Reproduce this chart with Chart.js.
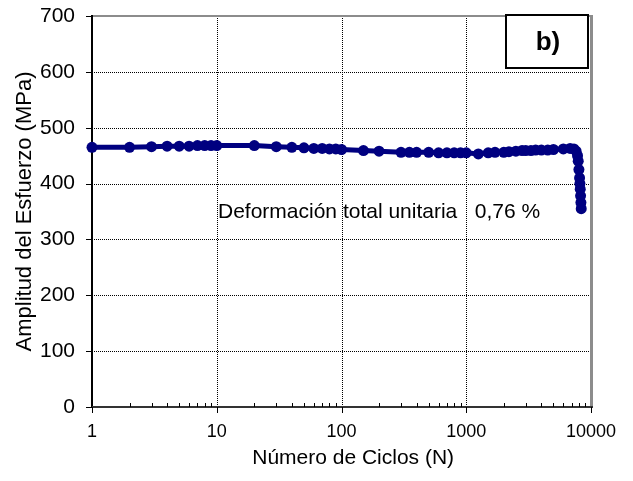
<!DOCTYPE html>
<html>
<head>
<meta charset="utf-8">
<script src="https://cdn.jsdelivr.net/npm/chart.js@4.4.0/dist/chart.umd.min.js"></script>
<style>
  html, body { margin: 0; padding: 0; background: #fff; }
  #wrap { width: 633px; height: 481px; }
</style>
</head>
<body>
<div id="wrap"><canvas id="chart" width="633" height="481"></canvas></div>
<script>
// Stress amplitude vs number of cycles
const ciclos = [1, 2, 3, 4, 5, 6, 7, 8, 9, 10,
    20, 30, 40, 50, 60, 70, 80, 90, 100,
    150, 200, 300, 350, 400, 500, 600, 700, 800, 900, 1000,
    1250, 1500, 1700, 2000, 2200, 2500, 2800, 3000, 3300, 3600, 4000, 4500, 5000,
    6000, 6800, 7300, 7600, 7800, 7900, 8000, 8100, 8150, 8200, 8250, 8300, 8350];
const esfuerzo = [465, 465, 466, 467, 467, 467, 468, 468, 468, 468,
    468, 466, 465, 464, 463, 463, 462, 462, 461,
    459, 458, 456, 456, 456, 456, 455, 455, 455, 455, 455,
    453, 455, 456, 456, 457, 458, 459, 459, 459, 460, 460, 460, 461,
    462, 463, 462, 458, 450, 440, 425, 410, 400, 390, 378, 366, 355];

const xTickValues = [1, 10, 100, 1000, 10000];
const xMinorValues = [2, 3, 4, 5, 6, 7, 8, 9, 20, 30, 40, 50, 60, 70, 80, 90,
    200, 300, 400, 500, 600, 700, 800, 900, 2000, 3000, 4000, 5000, 6000, 7000, 8000, 9000];
const yTickValues = [0, 100, 200, 300, 400, 500, 600, 700];

const etiquetaEnsayo = 'Deformación total unitaria   0,76 %';
const etiquetaPanel = 'b)';

const FONT = '"Liberation Sans", Arial, sans-serif';
const NAVY = '#000080';

// Excel-like frame: dotted grid, grey plot border, black axes, tick marks, labels
const excelFrame = {
    id: 'excelFrame',
    beforeDatasetsDraw(chart) {
        const { ctx, chartArea: a, scales: { x, y } } = chart;
        ctx.save();

        // dotted gridlines
        ctx.strokeStyle = '#000';
        ctx.lineWidth = 1;
        ctx.setLineDash([1, 1]);
        yTickValues.slice(1, -1).forEach(v => {
            const py = Math.round(y.getPixelForValue(v)) + 0.5;
            ctx.beginPath(); ctx.moveTo(a.left, py); ctx.lineTo(a.right, py); ctx.stroke();
        });
        xTickValues.slice(1, -1).forEach(v => {
            const px = Math.round(x.getPixelForValue(v)) + 0.5;
            ctx.beginPath(); ctx.moveTo(px, a.top); ctx.lineTo(px, a.bottom); ctx.stroke();
        });
        ctx.setLineDash([]);

        // plot area border (grey top / right)
        ctx.strokeStyle = '#8c8c8c';
        ctx.lineWidth = 2;
        ctx.beginPath(); ctx.moveTo(a.left, a.top); ctx.lineTo(a.right + 1, a.top); ctx.stroke();
        ctx.lineWidth = 3;
        ctx.beginPath(); ctx.moveTo(a.right + 0.5, a.top - 1); ctx.lineTo(a.right + 0.5, a.bottom); ctx.stroke();

        // axes
        ctx.strokeStyle = '#000';
        ctx.lineWidth = 2;
        ctx.beginPath(); ctx.moveTo(a.left, a.top - 1); ctx.lineTo(a.left, a.bottom + 1); ctx.stroke();
        ctx.strokeStyle = '#333';
        ctx.beginPath(); ctx.moveTo(a.left, a.bottom); ctx.lineTo(a.right + 2, a.bottom); ctx.stroke();

        // y tick marks (outside)
        ctx.strokeStyle = '#000';
        ctx.lineWidth = 1;
        yTickValues.forEach(v => {
            const py = Math.round(y.getPixelForValue(v)) + 0.5;
            ctx.beginPath(); ctx.moveTo(a.left - 6, py); ctx.lineTo(a.left, py); ctx.stroke();
        });
        // x major ticks (down) and minor ticks (up)
        xTickValues.forEach(v => {
            const px = Math.round(x.getPixelForValue(v)) + 0.5;
            ctx.beginPath(); ctx.moveTo(px, a.bottom); ctx.lineTo(px, a.bottom + 6); ctx.stroke();
        });
        xMinorValues.forEach(v => {
            const px = Math.round(x.getPixelForValue(v)) + 0.5;
            ctx.beginPath(); ctx.moveTo(px, a.bottom - 4); ctx.lineTo(px, a.bottom); ctx.stroke();
        });
        ctx.restore();
    },
    afterDatasetsDraw(chart) {
        const { ctx } = chart;
        ctx.save();
        // test annotation
        ctx.fillStyle = '#000';
        ctx.font = '21px ' + FONT;
        ctx.textAlign = 'left';
        ctx.textBaseline = 'middle';
        ctx.fillText(etiquetaEnsayo, 218, 212);

        // panel label box
        const bx = 506, by = 15, bw = 82, bh = 53;
        ctx.fillStyle = '#fff';
        ctx.fillRect(bx, by, bw, bh);
        ctx.strokeStyle = '#000';
        ctx.lineWidth = 2;
        ctx.strokeRect(bx, by, bw, bh);
        ctx.fillStyle = '#000';
        ctx.font = 'bold 26px ' + FONT;
        ctx.textAlign = 'center';
        ctx.fillText(etiquetaPanel, bx + bw / 2 + 1, by + bh / 2 + 1);
        ctx.restore();
    }
};

const ctx = document.getElementById('chart').getContext('2d');
const chart = new Chart(ctx, {
    type: 'scatter',
    data: {
        datasets: [{
            data: ciclos.map((n, i) => ({ x: n, y: esfuerzo[i] })),
            showLine: true,
            borderColor: NAVY,
            backgroundColor: NAVY,
            borderWidth: 5,
            tension: 0,
            pointRadius: 5.5,
            pointBorderWidth: 0,
            pointBackgroundColor: NAVY,
            clip: false
        }]
    },
    options: {
        responsive: false,
        animation: false,
        layout: { padding: { top: 16, right: 42, left: 0, bottom: 0 } },
        plugins: {
            legend: { display: false },
            tooltip: { enabled: false }
        },
        scales: {
            x: {
                type: 'logarithmic',
                min: 1,
                max: 10000,
                afterBuildTicks: scale => { scale.ticks = xTickValues.map(v => ({ value: v })); },
                afterFit: scale => {
                    scale.height = 74;
                    scale.paddingLeft = 0;
                    scale.paddingRight = 0;
                },
                grid: { display: false, drawTicks: false },
                border: { display: false },
                ticks: {
                    color: '#000',
                    padding: 14,
                    maxRotation: 0,
                    autoSkip: false,
                    font: { family: FONT, size: 18 },
                    callback: v => String(v)
                },
                title: {
                    display: true,
                    text: '    Número de Ciclos (N)',
                    color: '#000',
                    font: { family: FONT, size: 21 },
                    padding: { top: 0, bottom: 10 }
                }
            },
            y: {
                min: 0,
                max: 700,
                afterBuildTicks: scale => { scale.ticks = yTickValues.map(v => ({ value: v })); },
                afterFit: scale => {
                    scale.width = 92;
                    scale.paddingTop = 0;
                    scale.paddingBottom = 0;
                },
                grid: { display: false, drawTicks: false },
                border: { display: false },
                ticks: {
                    color: '#000',
                    padding: 17,
                    font: { family: FONT, size: 21 }
                },
                title: {
                    display: true,
                    text: 'Amplitud del Esfuerzo (MPa)',
                    color: '#000',
                    font: { family: FONT, size: 22 },
                    padding: { top: 12, bottom: 0 }
                }
            }
        }
    },
    plugins: [excelFrame]
});
</script>
</body>
</html>
